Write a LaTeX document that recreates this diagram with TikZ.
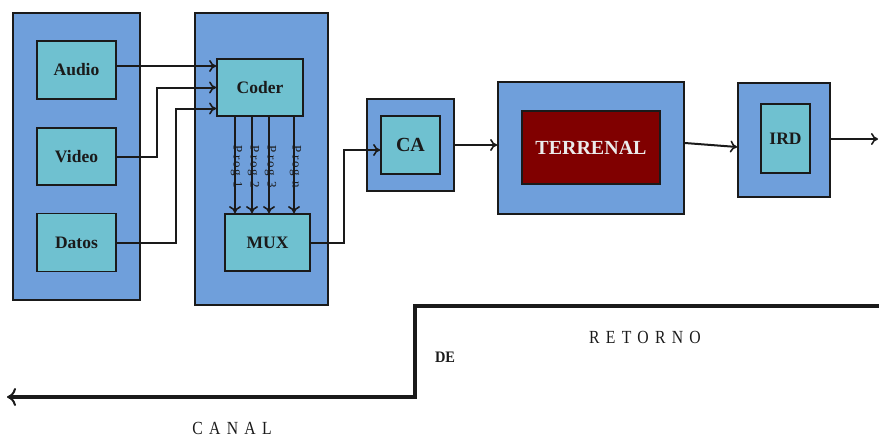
\documentclass[tikz,border=0pt]{standalone}
\usepackage{fontspec}
\setmainfont{Liberation Serif}
\newfontfamily\spacedfont[LetterSpace=40]{Liberation Serif}
\newfontfamily\progfont[LetterSpace=15]{Liberation Serif}
\usetikzlibrary{arrows.meta,calc}
\definecolor{outerblue}{HTML}{6F9FDB}
\definecolor{innercyan}{HTML}{6FC1D0}
\definecolor{darkred}{HTML}{800000}
\definecolor{ink}{HTML}{1A1A1A}
\tikzset{
  panel/.style={draw=ink, line width=1.8pt, fill=outerblue, inner sep=0pt},
  block/.style={draw=ink, line width=1.8pt, fill=innercyan, inner sep=0pt, text=ink,
    font=\fontsize{17.5}{19}\selectfont\bfseries},
  link/.style={draw=ink, line width=2pt, -{To[length=7pt,width=12pt,line width=1.6pt]}},
  proglabel/.style={rotate=-90, font=\progfont\fontsize{13}{14}\selectfont, text=ink, inner sep=0pt},
  spaced/.style={font=\spacedfont\fontsize{18.5}{20}\selectfont, text=ink, inner sep=0pt, xscale=0.85},
}
\begin{document}
\begin{tikzpicture}[x=1pt,y=-1pt]
\useasboundingbox (0,0) rectangle (879,442);
% left panel
\node[panel, minimum width=127pt, minimum height=287pt] (src) at (76.5,156.5) {};
\node[block, minimum width=79pt, minimum height=58pt] (audio) at (76.5,70) {Audio};
\node[block, minimum width=79pt, minimum height=57pt] (video) at (76.5,156.5) {Video};
\node[block, minimum width=79pt, minimum height=58pt] (datos) at (76.5,242.5) {Datos};
% coder panel
\node[panel, minimum width=133pt, minimum height=292pt] (enc) at (261.5,159) {};
\node[block, minimum width=86pt, minimum height=57pt] (coder) at (260,87.5) {Coder};
\node[block, minimum width=85pt, minimum height=57pt] (mux) at (267.5,242.5) {MUX};
% CA
\node[panel, minimum width=87pt, minimum height=92pt] (caout) at (410.5,145) {};
\node[block, minimum width=59pt, minimum height=58pt, font=\fontsize{20}{22}\selectfont\bfseries] (cain) at (410.5,145) {CA};
% Terrenal
\node[panel, minimum width=186pt, minimum height=132pt] (tout) at (591,148) {};
\node[draw=ink, line width=1.8pt, fill=darkred, inner sep=0pt, minimum width=138pt, minimum height=73pt,
  text=white!92!black, font=\fontsize{20}{22}\selectfont\bfseries] (tin) at (591,147.5) {TERRENAL};
% IRD
\node[panel, minimum width=92pt, minimum height=114pt] (irdout) at (784,140) {};
\node[block, minimum width=49pt, minimum height=69pt] (irdin) at (785.5,138.5) {IRD};
\coordinate (out) at (878,139);
% connectors into coder
\draw[link] ([yshift=4pt]audio.east) -- ([yshift=4pt]audio.east -| coder.west);
\draw[link] (video.east) -- ($(video.east)+(40,0)$) |- (coder.west);
\draw[link] (datos.east) -- ($(datos.east)+(59,0)$) |- ([yshift=-21pt]coder.west);
% prog arrows
\foreach \dx/\lab in {-25/Prog 1,-8/Prog 2,9/Prog 3,34/Prog n}{
  \draw[link] ([xshift=\dx pt]coder.south) -- ([xshift=\dx pt]coder.south |- mux.north);
  \node[proglabel] at ($([xshift=\dx pt]coder.south)+(1.5,50)$) {\lab};
}
% mux to CA
\draw[link] (mux.east) -- ($(mux.east)+(33,0)$) |- ([yshift=-5pt]cain.west);
\draw[link] (caout.east) -- (caout.east -| tout.west);
\draw[link] ([yshift=5pt]tout.east) -- ([yshift=-7pt]irdout.west);
\draw[link] (irdout.east |- out) -- (out);
% return channel
\coordinate (r1) at (879,306);
\coordinate (r2) at (415,306);
\coordinate (r3) at (415,397);
\coordinate (r4) at (7,397);
\draw[draw=ink, line width=3.5pt, -{To[length=9pt,width=18pt,line width=2pt]}] (r1) -- (r2) -- (r3) -- (r4);
\node[spaced] (ret) at (645,337) {RETORNO};
\node[font=\fontsize{16}{18}\selectfont\bfseries, text=ink, inner sep=0pt, xscale=0.9] (de) at (445,357) {DE};
\node[spaced] (canal) at (232,428) {CANAL};
\end{tikzpicture}
\end{document}
